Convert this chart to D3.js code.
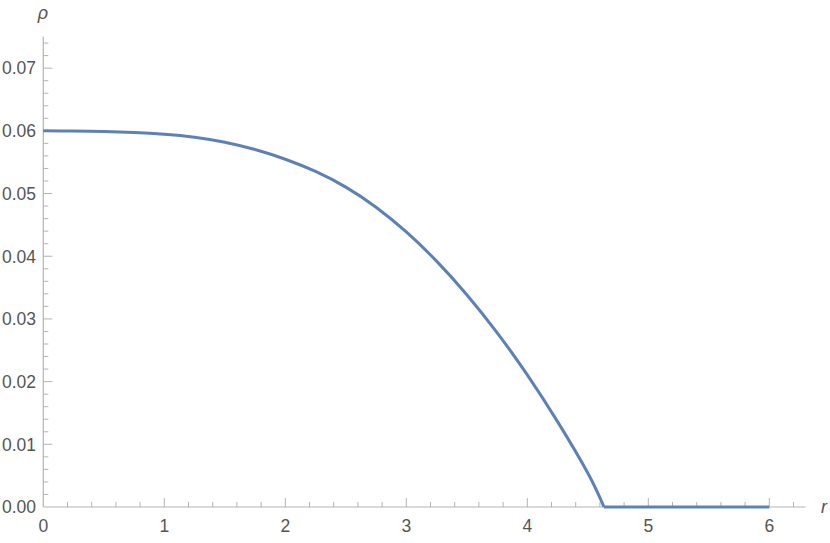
<!DOCTYPE html>
<html><head><meta charset="utf-8">
<script src="https://cdn.jsdelivr.net/npm/d3@7"></script>
<style>body{margin:0;background:#fff;} svg{display:block;}</style>
</head><body>
<svg id="c" width="830" height="543"></svg>
<script>
const rValues   = [0, 0.25, 0.5, 0.75, 1.0, 1.25, 1.5, 1.75, 2.0, 2.25, 2.5, 2.75, 3.0, 3.25, 3.5, 3.75, 4.0, 4.25, 4.5, 4.634, 5.0, 5.5, 6.0];
const rhoValues = [0.06, 0.05997, 0.05989, 0.05974, 0.05947, 0.05899, 0.05819, 0.05702, 0.05547, 0.05352, 0.05102, 0.04782, 0.04387, 0.03922, 0.03387, 0.02782, 0.02107, 0.01362, 0.00542, 0, 0, 0, 0];
const xTicks = [0, 1, 2, 3, 4, 5, 6];
const yTicks = [0, 0.01, 0.02, 0.03, 0.04, 0.05, 0.06, 0.07];
const xLabel = "r", yLabel = "ρ";

const svg = d3.select("#c");
const x = d3.scaleLinear().domain([0, 6.3]).range([43.3, 805.6]);
const y = d3.scaleLinear().domain([0, 0.075]).range([507, 36.8]);
const axisColor = "#b3b3b3", textColor = "#555";
const font = "'Liberation Sans', Arial, sans-serif";

// axes lines
svg.append("line").attr("x1", x(0)).attr("x2", x(6.3)).attr("y1", y(0)).attr("y2", y(0))
  .attr("stroke", axisColor).attr("stroke-width", 1.2);
svg.append("line").attr("x1", x(0)).attr("x2", x(0)).attr("y1", y(0)).attr("y2", y(0.075))
  .attr("stroke", axisColor).attr("stroke-width", 1.2);

// x ticks
const xMinor = d3.range(0, 6.3001, 0.2).filter(v => Math.abs(v - Math.round(v)) > 1e-6);
svg.selectAll(".xmin").data(xMinor).enter().append("line")
  .attr("x1", d => x(d)).attr("x2", d => x(d)).attr("y1", y(0)).attr("y2", y(0) - 5)
  .attr("stroke", axisColor).attr("stroke-width", 1);
svg.selectAll(".xmaj").data(xTicks.filter(d => d > 0)).enter().append("line")
  .attr("x1", d => x(d)).attr("x2", d => x(d)).attr("y1", y(0)).attr("y2", y(0) - 9)
  .attr("stroke", axisColor).attr("stroke-width", 1);
svg.selectAll(".xlab").data(xTicks).enter().append("text")
  .attr("x", d => x(d)).attr("y", 532).attr("text-anchor", "middle")
  .attr("font-family", font).attr("font-size", 17.5).attr("fill", textColor)
  .text(d => d3.format("d")(d));

// y ticks
const yMinor = d3.range(0, 0.0749, 0.002).filter(v => Math.abs(v * 100 - Math.round(v * 100)) > 1e-6);
svg.selectAll(".ymin").data(yMinor).enter().append("line")
  .attr("x1", x(0)).attr("x2", x(0) + 5).attr("y1", d => y(d)).attr("y2", d => y(d))
  .attr("stroke", axisColor).attr("stroke-width", 1);
svg.selectAll(".ymaj").data(yTicks.filter(d => d > 0)).enter().append("line")
  .attr("x1", x(0)).attr("x2", x(0) + 9).attr("y1", d => y(d)).attr("y2", d => y(d))
  .attr("stroke", axisColor).attr("stroke-width", 1);
svg.selectAll(".ylab").data(yTicks).enter().append("text")
  .attr("x", 36).attr("y", d => y(d) + 6.3).attr("text-anchor", "end")
  .attr("font-family", font).attr("font-size", 17.5).attr("fill", textColor)
  .text(d => d3.format(".2f")(d));

// axis labels
svg.append("text").attr("x", 43).attr("y", 19).attr("text-anchor", "middle")
  .attr("font-family", font).attr("font-style", "italic").attr("font-size", 18).attr("fill", textColor)
  .text(yLabel);
svg.append("text").attr("x", 824).attr("y", 513).attr("text-anchor", "middle")
  .attr("font-family", font).attr("font-style", "italic").attr("font-size", 18).attr("fill", textColor)
  .text(xLabel);

// curve
const data = rValues.map((r, i) => ({r, v: rhoValues[i]}));
const edge = rValues.indexOf(4.634);
const line = d3.line().x(d => x(d.r)).y(d => y(d.v)).curve(d3.curveNatural);
svg.append("path").datum(data.slice(0, edge + 1)).attr("d", line)
  .attr("fill", "none").attr("stroke", "#5e81b5").attr("stroke-width", 3).attr("stroke-linejoin", "round");
svg.append("path").datum(data.slice(edge)).attr("d", d3.line().x(d => x(d.r)).y(d => y(d.v)))
  .attr("fill", "none").attr("stroke", "#5e81b5").attr("stroke-width", 3).attr("stroke-linejoin", "round");
</script>
</body></html>
